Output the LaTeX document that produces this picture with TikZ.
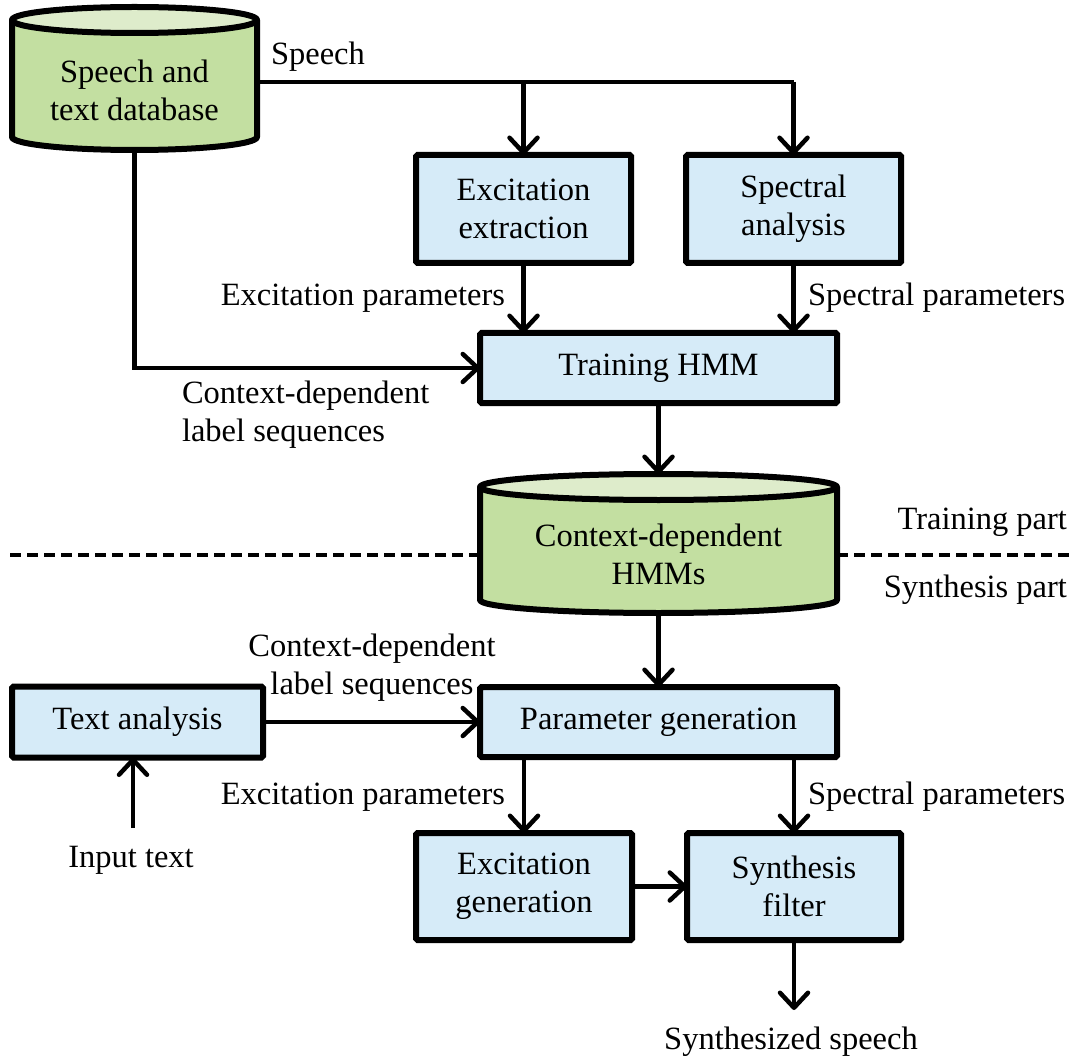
\documentclass[tikz,border=0pt]{standalone}
\usepackage{fontspec}
\setmainfont{Liberation Serif}
\usetikzlibrary{arrows.meta,calc}

\definecolor{boxblue}{RGB}{214,235,248}
\definecolor{cylbody}{RGB}{195,223,161}
\definecolor{cyltop}{RGB}{222,236,203}

\tikzset{
  txt/.style={font=\fontsize{32.5}{38}\selectfont, inner sep=0pt, outer sep=0pt},
  blk/.style={txt, draw=black, fill=boxblue, line width=6pt, align=center,
              rounded corners=1.5pt, outer sep=0pt},
  cylbox/.style={inner sep=0pt, outer sep=0pt, draw=none},
  conn/.style={line width=4.5pt, draw=black},
  tip/.style={-{Straight Barb[length=15pt,width=28pt,round]}},
  sep/.style={line width=4pt, dash pattern=on 11pt off 6pt},
  cylline/.style={line width=6pt, draw=black, line join=round},
}

% cylinder drawn inside the box of a named node
\newcommand{\drawcyl}[4]{% left, right, top-ellipse centre y, bottom-arc centre y
  \pgfmathsetmacro{\cx}{(#1+#2)/2}
  \pgfmathsetmacro{\rx}{(#2-#1)/2}
  \filldraw[cylline, fill=cylbody] (#1,#3) -- (#1,#4)
      arc[start angle=180, end angle=360, x radius=\rx pt, y radius=13pt]
      -- (#2,#3) -- cycle;
  \filldraw[cylline, fill=cyltop] (\cx,#3) ellipse [x radius=\rx pt, y radius=13pt];
}

\begin{document}
\begin{tikzpicture}[x=1pt,y=-1pt]
\useasboundingbox (0,0) rectangle (1082,1059);

% databases
\drawcyl{12}{257}{20}{137}
\node[cylbox, minimum width=245pt, minimum height=143pt] (db) at (134.5,78.5) {};
\node[txt, align=center] (dbtext) at ($(db.center)+(0,11.5)$) {Speech and\\text database};

\drawcyl{480}{837}{487}{600}
\node[cylbox, minimum width=357pt, minimum height=139pt] (hmms) at (658.5,543.5) {};
\node[txt, align=center] (hmmstext) at (658.5,554) {Context-dependent\\HMMs};

% processing blocks
\node[blk, minimum width=215pt, minimum height=108pt] (exx) at (523.5,209) {Excitation\\extraction};
\node[blk, minimum width=215pt, minimum height=108pt] (spa) at (793.5,209) {Spectral\\analysis};
\node[blk, minimum width=357pt, minimum height=70pt] (trn) at (658.5,368) {Training HMM};
\node[blk, minimum width=357pt, minimum height=70pt] (pgen) at (658.5,722) {Parameter generation};
\node[blk, minimum width=251pt, minimum height=71pt] (tan) at (137.5,722) {Text analysis};
\node[blk, minimum width=216pt, minimum height=107pt] (exg) at (524,886.5) {Excitation\\generation};
\node[blk, minimum width=214pt, minimum height=107pt] (syn) at (794,886.5) {Synthesis\\filter};

% free ends
\coordinate (inp) at (133,828);
\coordinate (outp) at (794,1010);

% training part connectors
\draw[conn] (db.east |- 0,82) -- (spa.north |- 0,82);
\draw[conn,tip] (spa.north |- 0,82) -- (spa.north);
\draw[conn,tip] (exx.north |- 0,82) -- (exx.north);
\draw[conn,tip] (exx.south) -- (exx.south |- trn.north);
\draw[conn,tip] (spa.south) -- (spa.south |- trn.north);
\draw[conn,tip] (db.south) |- (trn.west);
\draw[conn,tip] (trn.south) -- (hmms.north);

% synthesis part connectors
\draw[conn,tip] (hmms.south) -- (pgen.north);
\draw[conn,tip] (tan.east) -- (tan.east -| pgen.west);
\draw[conn,tip] (inp) -- (inp |- tan.south);
\draw[conn,tip] (pgen.south -| exg.north) -- (exg.north);
\draw[conn,tip] (pgen.south -| syn.north) -- (syn.north);
\draw[conn,tip] (exg.east) -- (exg.east -| syn.west);
\draw[conn,tip] (syn.south) -- (outp);

% separator between the two parts
\draw[sep] (10,555) -- (hmms.west |- 0,555);
\draw[sep] (hmms.east |- 0,555) -- (1072,555);

% labels
\node[txt, anchor=west] (lspeech) at (271,57) {Speech};
\node[txt, anchor=east] (lexc1) at (505,298) {Excitation parameters};
\node[txt, anchor=west] (lspc1) at (808,298) {Spectral parameters};
\node[txt, anchor=west, align=left] (lctx1) at (182,415) {Context-dependent\\label sequences};
\node[txt, anchor=east] (ltrain) at (1067,522) {Training part};
\node[txt, anchor=east] (lsynth) at (1067,590) {Synthesis part};
\node[txt, align=center] (lctx2) at (372,667.5) {Context-dependent\\label sequences};
\node[txt, anchor=east] (lexc2) at (505,797) {Excitation parameters};
\node[txt, anchor=west] (lspc2) at (808,797) {Spectral parameters};
\node[txt] (linput) at (131,860) {Input text};
\node[txt] (lout) at (791,1042) {Synthesized speech};
\end{tikzpicture}
\end{document}
